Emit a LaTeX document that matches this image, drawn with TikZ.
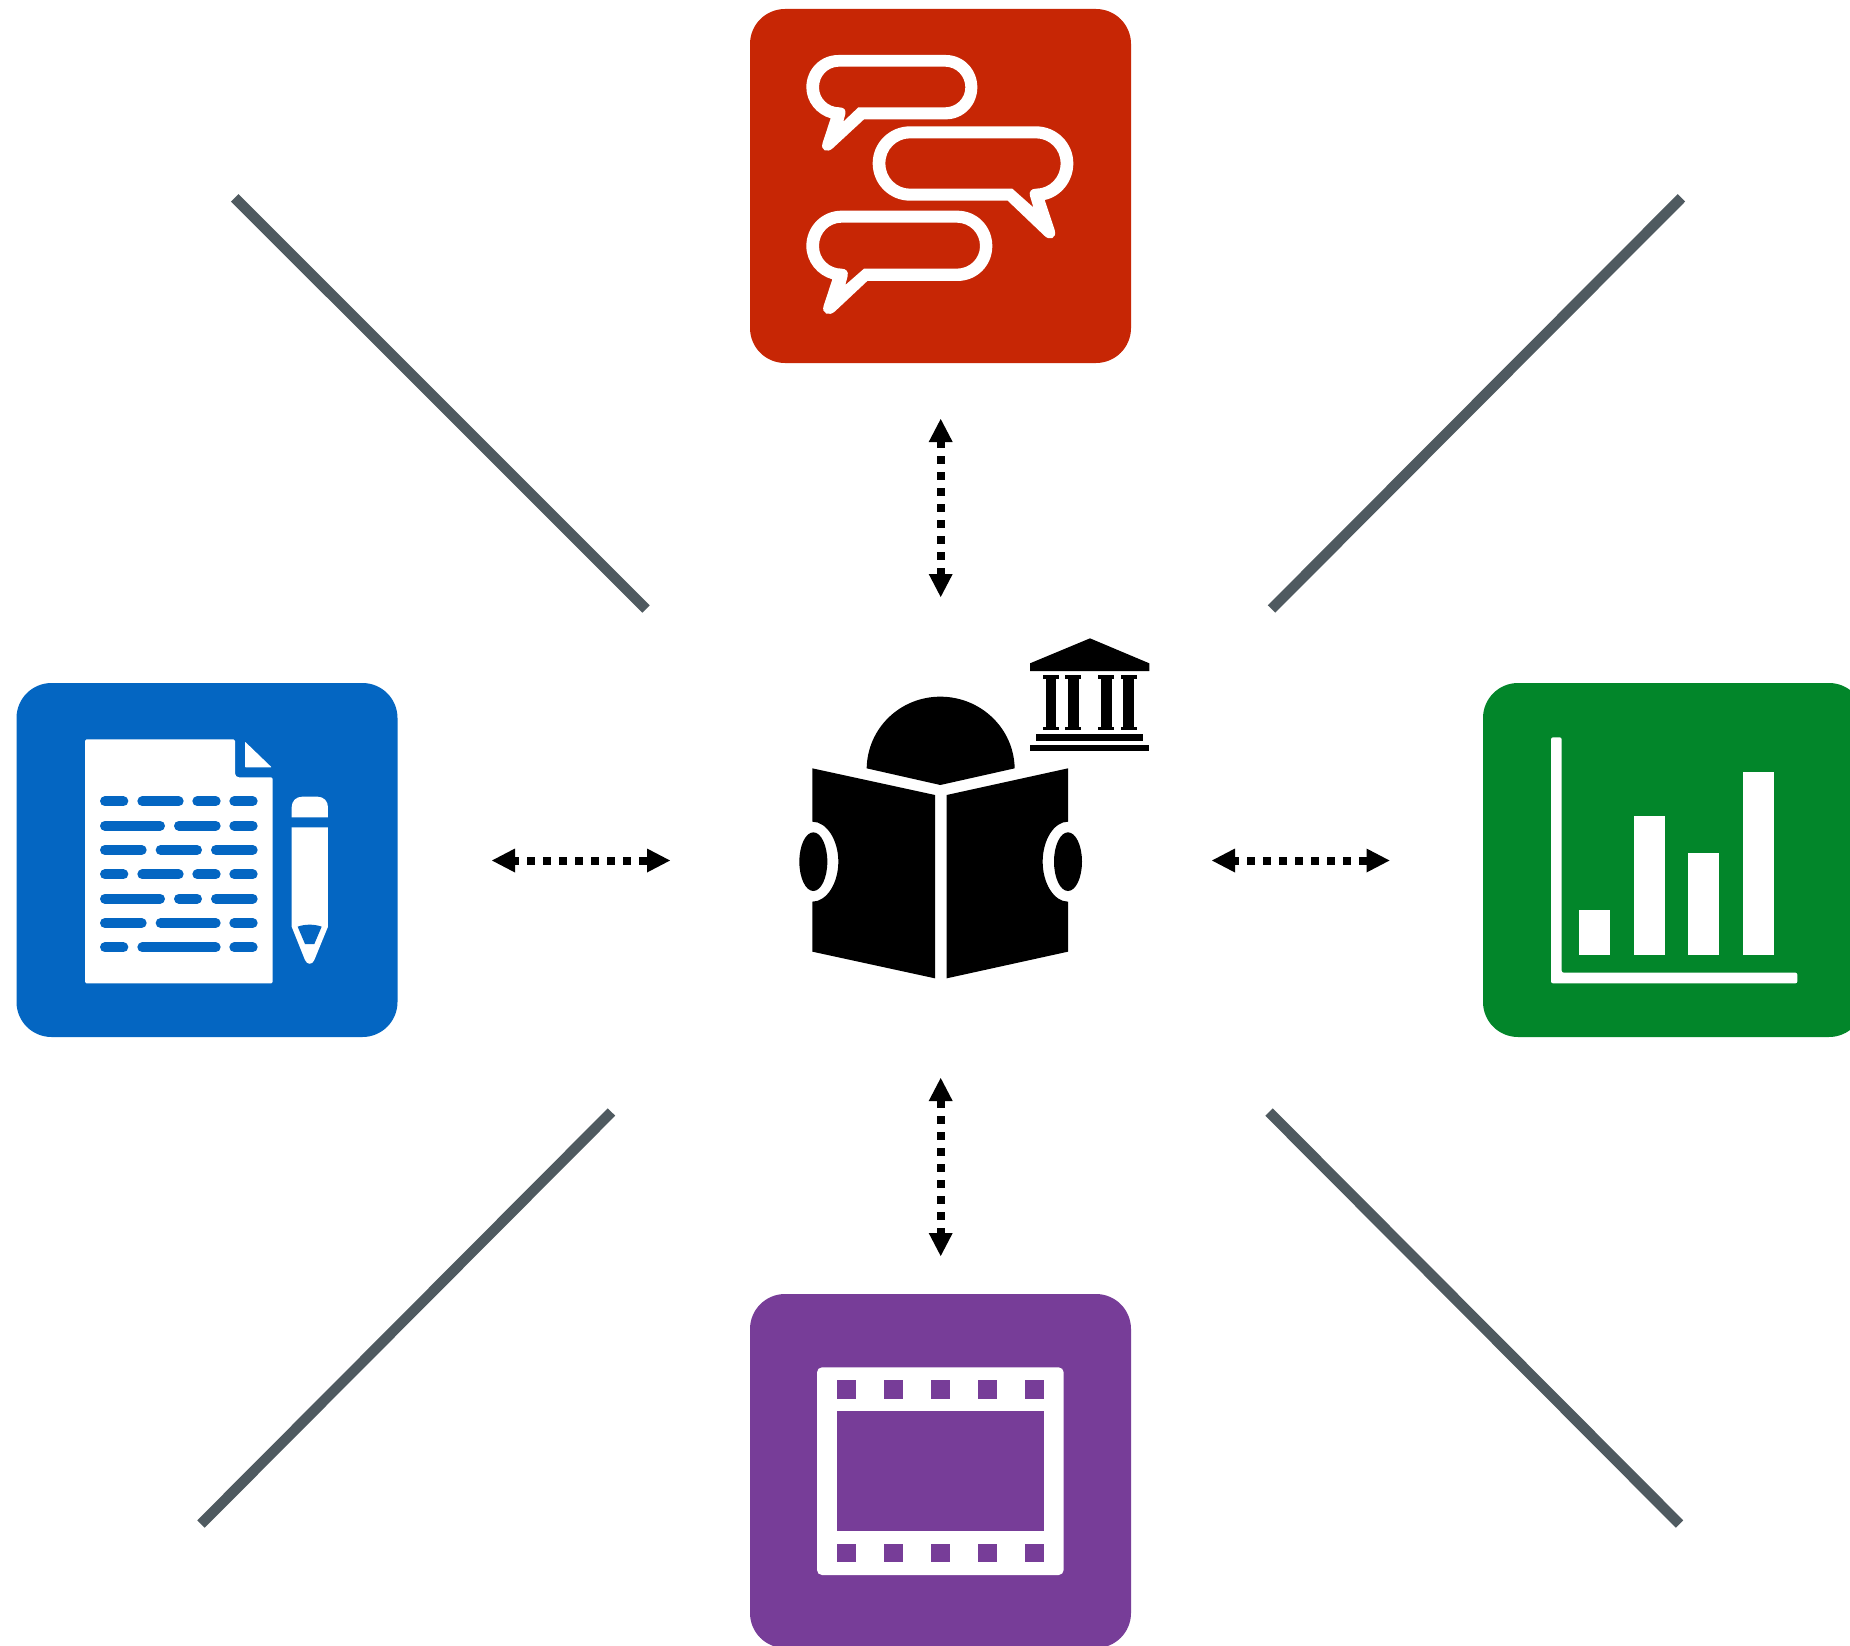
\documentclass[tikz,border=0pt]{standalone}
\usetikzlibrary{arrows.meta}
\definecolor{tred}{HTML}{C72605}
\definecolor{tblue}{HTML}{0466C2}
\definecolor{tgreen}{HTML}{02862A}
\definecolor{tpurple}{HTML}{773D98}
\definecolor{spoke}{HTML}{4F5A60}
\tikzset{
  tile/.style={minimum width=381pt,minimum height=354pt,inner sep=0pt,rounded corners=35pt,draw=none},
  spokeline/.style={draw=spoke,line width=10.5pt},
  link/.style={draw=black,line width=8pt,dash pattern=on 8pt off 8pt,
     {Triangle[length=23pt,width=24pt,line width=0pt]}-{Triangle[length=23pt,width=24pt,line width=0pt]}},
}
\begin{document}
\begin{tikzpicture}[x=1pt,y=-1pt]
\path[use as bounding box,fill=white] (0,0) rectangle (1850,1646);

% tiles
\node[tile,fill=tred] (talk) at (940.5,186) {};
\node[tile,fill=tblue] (doc) at (207,860) {};
\node[tile,fill=tgreen] (chart) at (1673.5,860) {};
\node[tile,fill=tpurple] (film) at (940.5,1471) {};

% spokes
\coordinate (s1a) at (234.7,197.8);  \coordinate (s1b) at (646,609);
\coordinate (s2a) at (1681.5,197.8); \coordinate (s2b) at (1271.5,609);
\coordinate (s3a) at (611.5,1112); \coordinate (s3b) at (201,1524);
\coordinate (s4a) at (1269,1112); \coordinate (s4b) at (1679.5,1524);
\draw[spokeline] (s1a) -- (s1b);
\draw[spokeline] (s2a) -- (s2b);
\draw[spokeline] (s3a) -- (s3b);
\draw[spokeline] (s4a) -- (s4b);

% links
\coordinate (l1a) at (940.7,419);  \coordinate (l1b) at (940.7,597);
\coordinate (l2a) at (940.7,1078); \coordinate (l2b) at (940.7,1256);
\coordinate (l3a) at (492,860.5);  \coordinate (l3b) at (670,860.5);
\coordinate (l4a) at (1212,860.5); \coordinate (l4b) at (1389.5,860.5);
\draw[link,dash phase=1.7pt] (l1a) -- (l1b);
\draw[link,dash phase=0.7pt] (l2a) -- (l2b);
\draw[link,dash phase=3.7pt] (l3a) -- (l3b);
\draw[link,dash phase=3.7pt] (l4a) -- (l4b);

% speech bubbles
\begin{scope}[shift={(740,0)},scale=0.33333]
\fill[white,even odd rule]
  (295,165) -- (618,165) .. controls (670,165) and (712,208) .. (712,262)
  .. controls (712,316) and (670,358) .. (618,358) -- (372,358) -- (279,444)
  .. controls (262,460) and (240,452) .. (248,428) -- (272,355)
  .. controls (230,343) and (199,306) .. (199,262)
  .. controls (199,208) and (241,165) .. (295,165) -- cycle
  (297,200) -- (615,200) .. controls (649,200) and (676,228) .. (676,262)
  .. controls (676,295) and (649,322) .. (615,322) -- (355,322) -- (310,365) -- (316,342)
  .. controls (319,330) and (312,322) .. (298,322)
  .. controls (264,322) and (237,295) .. (237,262)
  .. controls (237,228) and (263,200) .. (297,200) -- cycle;
\fill[white,even odd rule]
  (305,632) -- (652,632) .. controls (711,632) and (757,679) .. (757,738)
  .. controls (757,797) and (711,843) .. (652,843) -- (382,843) -- (285,934)
  .. controls (268,950) and (243,941) .. (251,917) -- (277,838)
  .. controls (233,826) and (199,786) .. (199,738)
  .. controls (199,679) and (246,632) .. (305,632) -- cycle
  (305,668) -- (650,668) .. controls (689,668) and (720,699) .. (720,738)
  .. controls (720,776) and (689,806) .. (650,806) -- (372,806) -- (316,855) -- (323,828)
  .. controls (326,815) and (318,806) .. (305,806)
  .. controls (267,806) and (237,776) .. (237,738)
  .. controls (237,699) and (267,668) .. (305,668) -- cycle;
\fill[white,even odd rule]
  (510,379) -- (888,379) .. controls (950,379) and (1000,429) .. (1000,490)
  .. controls (1000,545) and (962,590) .. (914,600) -- (944,690)
  .. controls (952,715) and (928,724) .. (912,706) -- (803,602) -- (510,602)
  .. controls (448,602) and (398,552) .. (398,490)
  .. controls (398,429) and (448,379) .. (510,379) -- cycle
  (510,415) -- (888,415) .. controls (929,415) and (962,449) .. (962,490)
  .. controls (962,532) and (929,566) .. (888,566)
  .. controls (874,566) and (866,575) .. (870,588) -- (880,622) -- (817,566) -- (510,566)
  .. controls (469,566) and (436,532) .. (436,490)
  .. controls (436,449) and (469,415) .. (510,415) -- cycle;
\end{scope}

% reader
\begin{scope}[shift={(780,620)},scale=0.33333]
\fill[black] (260,445) .. controls (262,325) and (360,230) .. (481,230)
  .. controls (602,230) and (702,325) .. (704,445) -- (481,495) -- cycle;
\fill[black] (97,445) -- (465,525) -- (465,1075) -- (97,995) -- (97,845)
  .. controls (140,845) and (175,790) .. (175,725) .. controls (175,660) and (140,605) .. (97,605) -- cycle;
\fill[black] (864,445) -- (500,525) -- (500,1075) -- (864,995) -- (864,845)
  .. controls (822,845) and (788,790) .. (788,725) .. controls (788,660) and (822,605) .. (864,605) -- cycle;
\fill[black] (100,725) ellipse [x radius=42,y radius=88];
\fill[black] (864,725) ellipse [x radius=42,y radius=88];
% institution
\fill[black] (930,55) -- (1108,130) -- (1108,153) -- (750,153) -- (750,130) -- cycle;
\foreach \cx in {813,880,979,1046}{
  \fill[black] ({\cx-24},165) rectangle ({\cx+24},177);
  \fill[black] ({\cx-16},165) rectangle ({\cx+16},330);
  \fill[black] ({\cx-24},320) rectangle ({\cx+24},330);
}
\fill[black] (768,343) rectangle (1090,362);
\fill[black] (750,375) rectangle (1108,394);
\end{scope}

% document and pencil
\begin{scope}[shift={(60,720)},scale=0.33333]
\fill[white,rounded corners=1.5pt] (75,58) -- (525,58) [rounded corners=4pt] -- (525,172) [rounded corners=1.5pt] -- (638,172) -- (638,790) -- (75,790) -- cycle;
\fill[white,rounded corners=0.7pt] (555,65) -- (635,142) -- (555,142) -- cycle;
\foreach \yy/\segs in {244/{120/205,232/371,397/482,508/593},
                       317/{120/315,342/482,508/593},
                       390/{120/260,287/426,453/593},
                       463/{120/205,232/371,397/482,508/593},
                       536/{120/315,342/426,453/593},
                       609/{120/260,287/482,508/593},
                       682/{120/205,232/482,508/593}}{
  \foreach \xa/\xb in \segs {
    \draw[tblue,line width=10pt,line cap=round] ({\xa+15},\yy) -- ({\xb-15},\yy);
  }
}
\fill[white] (695,292) -- (695,262) .. controls (695,243) and (708,230) .. (727,230)
  -- (772,230) .. controls (791,230) and (804,243) .. (804,262) -- (804,292) -- cycle;
\fill[white] (695,322) -- (804,322) -- (804,620) -- (763,720)
  .. controls (757,735) and (741,735) .. (735,720) -- (695,620) -- cycle;
\fill[tblue] (713,620) .. controls (735,612) and (763,612) .. (785,620) -- (763,672) -- (735,672) -- cycle;
\end{scope}

% chart
\begin{scope}[shift={(1490,680)},scale=0.33333]
\fill[white,rounded corners=2pt] (183,172) -- (215,172) -- (215,878) -- (922,878) -- (922,910) -- (183,910) -- cycle;
\fill[white] (267,690) rectangle (360,824);
\fill[white] (431,409) rectangle (524,824);
\fill[white] (595,518) rectangle (688,824);
\fill[white] (759,275) rectangle (852,824);
\end{scope}

% film strip
\begin{scope}[shift={(790,1350)},scale=0.33333]
\fill[white,rounded corners=5pt] (81,52) rectangle (821,675);
\fill[tpurple] (141,184) rectangle (762,543);
\foreach \hx in {141,282,423,565,706}{
  \fill[tpurple] (\hx,90) rectangle ({\hx+56},146);
  \fill[tpurple] (\hx,581) rectangle ({\hx+56},637);
}
\end{scope}
\end{tikzpicture}
\end{document}
